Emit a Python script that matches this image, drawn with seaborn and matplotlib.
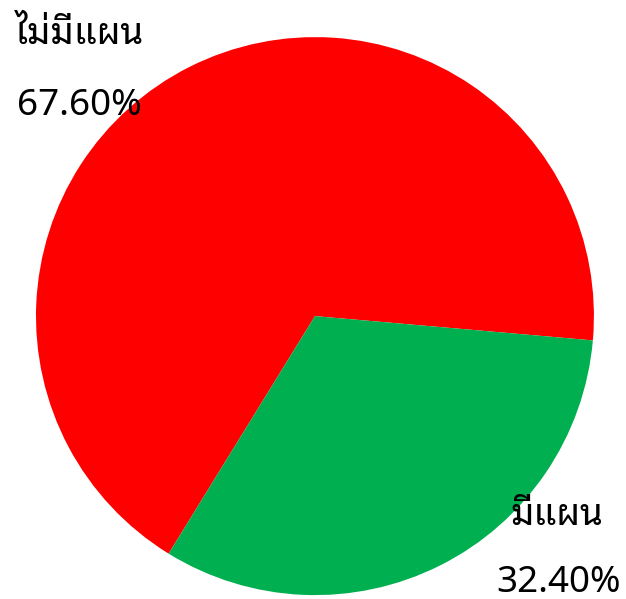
import matplotlib
matplotlib.use("Agg")
import matplotlib.pyplot as plt
import seaborn as sns

# data
labels = ["ไม่มีแผน", "มีแผน"]
shares = [67.6, 32.4]
colors = ["#FF0000", "#00B050"]

sns.set_theme(style="white")
plt.rcParams["font.family"] = ["Noto Sans Thai Looped", "DejaVu Sans"]

fig = plt.figure(figsize=(6.26, 5.99), dpi=100)
ax = fig.add_axes([0, 0, 1, 1])
ax.pie(shares, colors=colors, startangle=-5, counterclock=True,
       wedgeprops={"linewidth": 0})
ax.set_aspect("auto")
ax.set_xlim(-1.129, 1.115)
ax.set_ylim(-1.014, 1.133)
ax.axis("off")

# labels sit outside the pie, like the original (label, then percent under it)
label_pos = [(-0.842, 0.975, -0.844, 0.720), (0.869, -0.749, 0.873, -0.989)]
for lab, val, (lx, ly, px, py) in zip(labels, shares, label_pos):
    ax.text(lx, ly, lab, ha="center", va="baseline", fontsize=26.5, color="black")
    ax.text(px, py, f"{val:.2f}%", ha="center", va="baseline", fontsize=26.5, color="black")

fig.savefig("out.png", dpi=100)
